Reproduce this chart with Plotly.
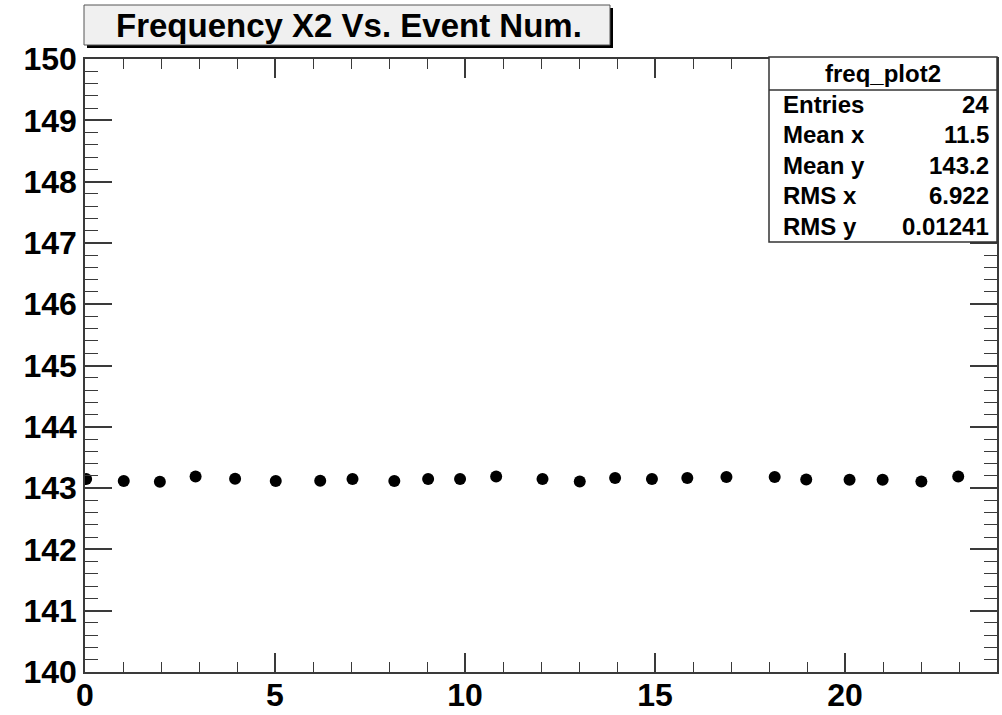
import plotly.graph_objects as go

# ---- data ----
event_num = [0.03, 1.02, 1.97, 2.91, 3.95, 5.02, 6.19, 7.04, 8.14, 9.03, 9.87, 10.82,
             12.04, 13.02, 13.95, 14.92, 15.85, 16.88, 18.15, 18.98, 20.12, 20.99, 22.01, 22.98]
freq_x2 = [143.148, 143.116, 143.104, 143.190, 143.153, 143.116, 143.120, 143.148,
           143.116, 143.148, 143.148, 143.190, 143.148, 143.109, 143.165, 143.148,
           143.165, 143.181, 143.181, 143.142, 143.137, 143.137, 143.109, 143.190]

title_text = "Frequency X2 Vs. Event Num."
stats_name = "freq_plot2"
stats_labels = ["Entries", "Mean x", "Mean y", "RMS x", "RMS y"]
stats_values = ["24", "11.5", "143.2", "6.922", "0.01241"]

x_range = [0, 24]
y_range = [140, 150]

# ---- layout geometry (pixels) ----
W, H = 1002, 715
L, R, T, B = 85, 5, 59, 43
PW, PH = W - L - R, H - T - B


def px(xp):
    return (xp - L) / PW


def py(yp):
    return 1 - (yp - T) / PH


FONT = "Liberation Sans, Arial, Helvetica, sans-serif"
FRAME = "#3a3a3a"

fig = go.Figure()
fig.add_trace(go.Scatter(
    x=event_num, y=freq_x2, mode="markers",
    marker=dict(color="black", size=12, line=dict(width=0)),
    showlegend=False, hoverinfo="x+y",
))

axis_common = dict(
    showgrid=False, zeroline=False, showline=True, linecolor=FRAME, linewidth=1.5,
    mirror="allticks", ticks="inside", tickcolor=FRAME, tickwidth=1.5,
    tickfont=dict(family=FONT, size=32, color="black", weight="bold"),
    automargin=False,
)

fig.update_xaxes(range=x_range, tick0=0, dtick=5, ticklen=19, ticklabelstandoff=-6,
                 minor=dict(dtick=1, ticks="inside", ticklen=10, tickcolor=FRAME, tickwidth=1.2),
                 **axis_common)
fig.update_yaxes(range=y_range, tick0=140, dtick=1, ticklen=27,
                 minor=dict(dtick=0.2, ticks="inside", ticklen=13, tickcolor=FRAME, tickwidth=1.2),
                 **axis_common)

shapes = []
annotations = []

# title box with shadow
tb = (84, 5, 610, 45)
shapes.append(dict(type="rect", xref="paper", yref="paper",
                   x0=px(tb[0] + 3), x1=px(tb[2] + 3), y0=py(tb[1] + 3), y1=py(tb[3] + 3),
                   fillcolor="black", line=dict(width=0), layer="above"))
shapes.append(dict(type="rect", xref="paper", yref="paper",
                   x0=px(tb[0]), x1=px(tb[2]), y0=py(tb[1]), y1=py(tb[3]),
                   fillcolor="#f0f0f0", line=dict(color="#555555", width=1), layer="above"))
annotations.append(dict(text=title_text, xref="paper", yref="paper",
                        x=px(349), y=py(26), xanchor="center", yanchor="middle",
                        showarrow=False, font=dict(family=FONT, size=33, color="black", weight="bold")))

# stats box
sb = (769, 57, 997, 242)
shapes.append(dict(type="rect", xref="paper", yref="paper",
                   x0=px(sb[0]), x1=px(sb[2]), y0=py(sb[1]), y1=py(sb[3]),
                   fillcolor="white", line=dict(color="#333333", width=1.5), layer="above"))
shapes.append(dict(type="line", xref="paper", yref="paper",
                   x0=px(sb[0]), x1=px(sb[2]), y0=py(90), y1=py(90),
                   line=dict(color="#333333", width=1.5), layer="above"))
annotations.append(dict(text=stats_name, xref="paper", yref="paper",
                        x=px(883), y=py(73), xanchor="center", yanchor="middle",
                        showarrow=False, font=dict(family=FONT, size=24, color="black", weight="bold")))
row_y = [104, 134.5, 165, 195.5, 226]
for lab, val, yy in zip(stats_labels, stats_values, row_y):
    annotations.append(dict(text=lab, xref="paper", yref="paper",
                            x=px(781), y=py(yy), xanchor="left", yanchor="middle",
                            showarrow=False, font=dict(family=FONT, size=24, color="black", weight="bold")))
    annotations.append(dict(text=val, xref="paper", yref="paper",
                            x=px(991), y=py(yy), xanchor="right", yanchor="middle",
                            showarrow=False, font=dict(family=FONT, size=24, color="black", weight="bold")))

fig.update_layout(
    width=W, height=H,
    margin=dict(l=L, r=R, t=T, b=B, pad=0),
    paper_bgcolor="white", plot_bgcolor="white",
    shapes=shapes, annotations=annotations,
    font=dict(family=FONT),
)

fig.write_html("out.html", config={"displayModeBar": False},
               post_script="document.body.style.margin='0';document.body.style.overflow='hidden';")
